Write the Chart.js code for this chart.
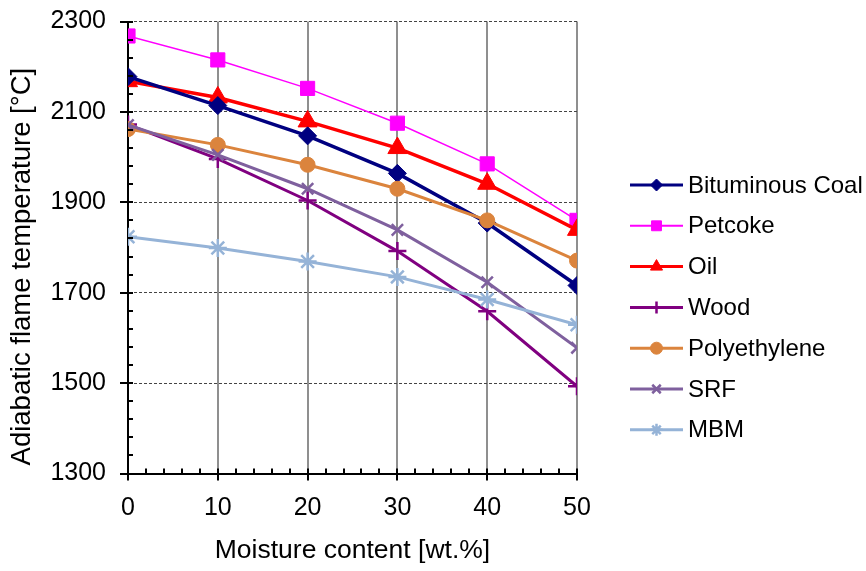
<!DOCTYPE html>
<html>
<head>
<meta charset="utf-8">
<script src="https://cdn.jsdelivr.net/npm/chart.js@4"></script>
<style>
html,body{margin:0;padding:0;background:#fff;}
#wrap{width:866px;height:571px;position:relative;}
</style>
</head>
<body>
<div id="wrap"><canvas id="c" width="866" height="571"></canvas></div>
<script>
const moisture = [0, 10, 20, 30, 40, 50];
const bituminousCoal = [2178, 2114, 2047, 1964, 1854, 1716];
const petcoke = [2268, 2215, 2152, 2075, 1985, 1860];
const oil = [2168, 2132, 2079, 2020, 1941, 1839];
const wood = [2072, 1996, 1904, 1792, 1659, 1493];
const polyethylene = [2062, 2027, 1983, 1930, 1860, 1771];
const srf = [2071, 2005, 1930, 1839, 1723, 1578];
const mbm = [1824, 1799, 1769, 1735, 1685, 1629];
const yTicks = [1300, 1500, 1700, 1900, 2100, 2300];
const xTicks = [0, 10, 20, 30, 40, 50];

const FONT = "'Liberation Sans', Arial, sans-serif";
const toPts = arr => arr.map((v, i) => ({x: moisture[i], y: v}));

function ds(label, data, color, style, radius, lw, bw, lr) {
  return {
    label, data: toPts(data),
    borderColor: color, backgroundColor: color,
    pointBackgroundColor: color, pointBorderColor: color,
    pointStyle: style, pointRadius: radius, pointHoverRadius: radius,
    pointBorderWidth: bw, borderWidth: lw, tension: 0, legendRadius: lr
  };
}

const datasets = [
  ds('MBM', mbm, '#95B3D7', 'star', 9, 3, 2.5, 6),
  ds('SRF', srf, '#7F609E', 'crossRot', 8, 3, 2.5, 6),
  ds('Polyethylene', polyethylene, '#DB843D', 'circle', 7.5, 3, 1, 6),
  ds('Wood', wood, '#800080', 'cross', 9, 3, 2.5, 6),
  ds('Bituminous Coal', bituminousCoal, '#000080', 'rectRot', 9, 3.5, 1, 6),
  ds('Oil', oil, '#FF0000', 'triangle', 11, 3.5, 1, 7),
  ds('Petcoke', petcoke, '#FF00FF', 'rect', 10, 1.5, 1, 7)
];
const legendOrder = ['Bituminous Coal', 'Petcoke', 'Oil', 'Wood', 'Polyethylene', 'SRF', 'MBM'];

const extras = {
  id: 'extras',
  afterDraw(chart) {
    const ctx = chart.ctx;
    const xs = chart.scales.x, ys = chart.scales.y;
    const ca = chart.chartArea;
    ctx.save();
    ctx.strokeStyle = '#000';
    ctx.lineWidth = 2;
    for (let v = 1300; v <= 2300; v += 40) {
      const y = Math.round(ys.getPixelForValue(v));
      const major = yTicks.includes(v);
      ctx.beginPath();
      ctx.moveTo(ca.left - (major ? 8 : 0), y);
      ctx.lineTo(ca.left + 5, y);
      ctx.stroke();
    }
    for (let v = 0; v <= 50; v += 2) {
      const x = Math.round(xs.getPixelForValue(v));
      const major = xTicks.includes(v);
      ctx.beginPath();
      ctx.moveTo(x, ca.bottom + (major ? 7 : 0));
      ctx.lineTo(x, ca.bottom - 5);
      ctx.stroke();
    }
    const lx0 = ca.right + 53, lx1 = ca.right + 106;
    legendOrder.forEach((name, i) => {
      const d = chart.data.datasets.find(q => q.label === name);
      const y = 185 + i * 40.8;
      ctx.strokeStyle = d.borderColor;
      ctx.fillStyle = d.borderColor;
      ctx.lineWidth = d.borderWidth === 1.5 ? 2 : 3;
      ctx.beginPath();
      ctx.moveTo(lx0, y); ctx.lineTo(lx1, y); ctx.stroke();
      ctx.lineWidth = d.pointBorderWidth;
      Chart.helpers.drawPoint(ctx, {pointStyle: d.pointStyle, radius: d.legendRadius, rotation: 0, borderWidth: d.pointBorderWidth}, (lx0 + lx1) / 2, y);
      ctx.fillStyle = '#000';
      ctx.font = '24px ' + FONT;
      ctx.textBaseline = 'middle';
      ctx.textAlign = 'left';
      ctx.fillText(name, lx1 + 5, y + 1);
    });
    ctx.restore();
  }
};

new Chart(document.getElementById('c'), {
  type: 'line',
  data: { datasets },
  options: {
    responsive: false,
    animation: false,
    layout: { padding: { left: 0, right: 289, top: 21.5, bottom: 0 } },
    plugins: { legend: { display: false }, tooltip: { enabled: false } },
    scales: {
      x: {
        type: 'linear', min: 0, max: 50,
        afterBuildTicks: s => { s.ticks = xTicks.map(v => ({value: v})); },
        afterFit: s => { s.height = 97.5; s.paddingLeft = 0; s.paddingRight = 0; },
        grid: { color: '#8f8f8f', lineWidth: 2, drawTicks: false },
        border: { color: '#000', width: 2 },
        ticks: { color: '#000', font: { family: FONT, size: 25 }, padding: 20, maxRotation: 0, callback: v => String(v) },
        title: { display: true, text: 'Moisture content [wt.%]', color: '#000', font: { family: FONT, size: 26.5 }, padding: { top: 0, bottom: 4 } }
      },
      y: {
        type: 'linear', min: 1300, max: 2300,
        afterBuildTicks: s => { s.ticks = yTicks.map(v => ({value: v})); },
        afterFit: s => { s.width = 128; s.paddingTop = 0; s.paddingBottom = 0; },
        grid: { color: '#444', lineWidth: 1, drawTicks: false },
        border: { color: '#000', width: 2, dash: [3, 2] },
        ticks: { color: '#000', font: { family: FONT, size: 25 }, padding: 22, callback: v => String(v) },
        title: { display: true, text: 'Adiabatic flame temperature [°C]     ', color: '#000', font: { family: FONT, size: 27.5 }, padding: { top: 6, bottom: 0 } }
      }
    }
  },
  plugins: [extras]
});
</script>
</body>
</html>
